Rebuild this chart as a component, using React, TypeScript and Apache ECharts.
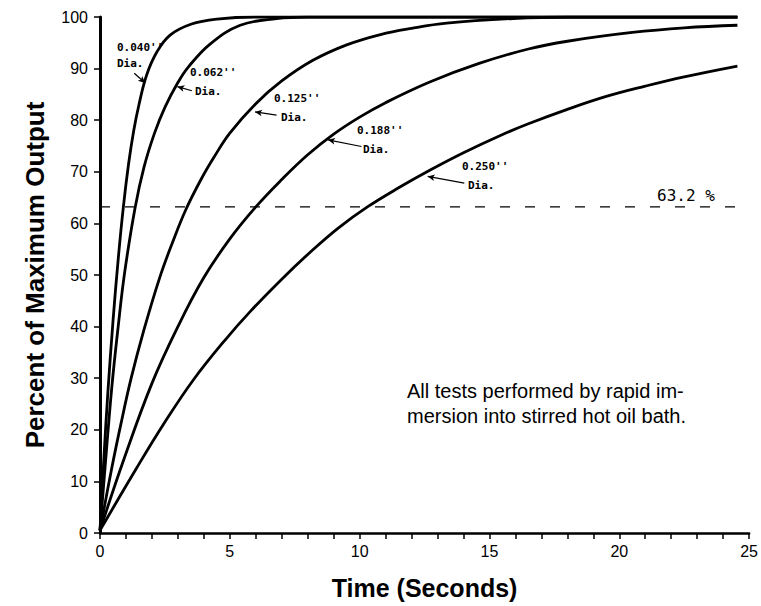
import React, { useEffect, useRef } from 'react';
import * as echarts from 'echarts';

// ---- Data (x = seconds, y = percent of maximum output) ----
const curve040 = [
  [0, 0.5], [0.15, 14.5], [0.3, 27], [0.5, 41], [0.7, 53], [0.9, 63.2], [1.1, 71.5],
  [1.3, 78], [1.5, 83], [1.8, 88.8], [2.2, 93.3], [2.7, 96.5], [3.5, 98.6],
  [4.5, 99.6], [6, 100], [10, 100], [15, 100], [20, 100], [24.55, 100],
];
const curve062 = [
  [0, 0.5], [0.2, 13], [0.45, 28], [0.7, 40], [0.95, 50.5], [1.35, 63], [1.7, 71],
  [2.1, 77.5], [2.5, 82.5], [3.0, 87.3], [3.4, 90.3], [4.25, 94.8], [5.4, 98.4],
  [6.8, 99.7], [8, 100], [12, 100], [16, 100], [20, 100], [24.55, 100],
];
const curve125 = [
  [0, 0.5], [0.45, 12.5], [0.8, 21], [1.2, 30], [1.7, 39.5], [2.3, 49.5], [2.8, 56.4],
  [3.3, 62.6], [3.9, 68.6], [4.4, 72.9], [5, 77.5], [6, 83.2], [7, 87.6], [8.2, 91.6],
  [9.5, 94.6], [10.8, 96.6], [12, 97.8], [13.35, 98.8], [15.9, 99.7], [18, 100],
  [21, 100], [24.55, 100],
];
const curve188 = [
  [0, 0.5], [0.9, 14], [2, 29], [3, 40], [4, 49.5], [5, 57], [6, 63.2], [7, 68.5],
  [8, 73.3], [9, 77.3], [10, 80.6], [11, 83.4], [12.7, 87.4], [14.6, 91], [16.5, 93.8],
  [18, 95.3], [20.5, 97], [22.5, 97.9], [24.55, 98.4],
];
const curve250 = [
  [0, 0.5], [1.4, 12.5], [2.5, 21.5], [3.6, 29.7], [4.8, 37.3], [5.8, 43], [7, 49.2],
  [8.2, 54.9], [9.2, 59.2], [10.3, 63.2], [11.5, 66.9], [12.7, 70.3], [14, 73.7], [15.4, 77],
  [16.5, 79.3], [18, 82.1], [19.5, 84.6], [21, 86.6], [22.5, 88.4], [24.55, 90.5],
];
const curveNames = ["0.040''", "0.062''", "0.125''", "0.188''", "0.250''"];
const thresholdLine = [[0, 63.2], [24.55, 63.2]];
const thresholdText = '63.2 %';
const noteLines = ['All tests performed by rapid im-', 'mersion into stirred hot oil bath.'];
const xAxisTitle = 'Time (Seconds)';
const yAxisTitle = 'Percent of Maximum Output';

// annotation arrows (tip on curve, tail near the label), in data units
const arrowTips = [[1.74, 87.2], [2.98, 86.5], [5.97, 81.6], [8.78, 76.2], [12.62, 69.1]];
const arrowTails = [[1.32, 89.1], [3.54, 85.7], [6.8, 81.0], [10.07, 74.9], [14.03, 67.8]];

// label placement in pixels (left x, centre y of the first line; second line "Dia.")
const labelPos = [
  { x: 117, y: 47, dx: 0, dy: 16 },
  { x: 190, y: 72, dx: 5, dy: 19 },
  { x: 274, y: 98, dx: 7, dy: 19 },
  { x: 357, y: 130, dx: 6, dy: 19 },
  { x: 462, y: 166, dx: 6, dy: 19 },
];

const curveData = [curve040, curve062, curve125, curve188, curve250];

export default function App() {
  const ref = useRef<HTMLDivElement>(null);
  useEffect(() => {
    if (!ref.current) return;
    const chart = echarts.init(ref.current, null, { renderer: 'svg' });
    const mono = '"DejaVu Sans Mono", monospace';
    const sans = '"Liberation Sans", Arial, sans-serif';

    const series: any[] = curveData.map((d, i) => ({
      type: 'line',
      name: curveNames[i],
      data: d,
      showSymbol: false,
      smooth: 0.4,
      clip: true,
      lineStyle: { color: '#000', width: 2.8 },
      z: 3,
      silent: true,
      markLine: {
        silent: true,
        symbol: ['arrow', 'none'],
        symbolSize: [5, 7],
        label: { show: false },
        lineStyle: { color: '#000', width: 1.2, type: 'solid' },
        data: [[{ coord: arrowTips[i] }, { coord: arrowTails[i] }]],
      },
    }));
    series.push({
      type: 'line',
      name: 'threshold',
      data: thresholdLine,
      showSymbol: false,
      silent: true,
      lineStyle: { color: '#000', width: 1.2, type: [10, 15] },
      z: 2,
    });

    const graphics: any[] = [];
    labelPos.forEach((p, i) => {
      graphics.push({
        type: 'text', x: p.x, y: p.y, silent: true,
        style: { text: curveNames[i], fontFamily: mono, fontSize: 11, fontWeight: 'bold', fill: '#000', align: 'left', verticalAlign: 'middle' },
      });
      graphics.push({
        type: 'text', x: p.x + p.dx, y: p.y + p.dy, silent: true,
        style: { text: 'Dia.', fontFamily: mono, fontSize: 11, fontWeight: 'bold', fill: '#000', align: 'left', verticalAlign: 'middle' },
      });
    });
    graphics.push({
      type: 'text', x: 657, y: 195, silent: true,
      style: { text: thresholdText, fontFamily: mono, fontSize: 16, fill: '#000', align: 'left', verticalAlign: 'middle' },
    });
    noteLines.forEach((t, i) => {
      graphics.push({
        type: 'text', x: 407, y: 391 + i * 25, silent: true,
        style: { text: t, fontFamily: sans, fontSize: 20, fill: '#000', align: 'left', verticalAlign: 'middle' },
      });
    });

    chart.setOption({
      animation: false,
      backgroundColor: '#fff',
      grid: { left: 100, right: 11, top: 17, bottom: 73, containLabel: false },
      xAxis: {
        type: 'value', min: 0, max: 25, interval: 5,
        axisLine: { show: true, lineStyle: { color: '#000', width: 2.5 } },
        axisTick: { show: true, length: 6, lineStyle: { color: '#000', width: 1.5 } },
        minorTick: { show: true, splitNumber: 5, length: 6, lineStyle: { color: '#000', width: 1.5 } },
        splitLine: { show: false },
        axisLabel: { color: '#000', fontSize: 16, fontFamily: sans, margin: 10 },
        name: xAxisTitle, nameLocation: 'middle', nameGap: 42,
        nameTextStyle: { color: '#000', fontSize: 25, fontWeight: 'bold', fontFamily: sans },
      },
      yAxis: {
        type: 'value', min: 0, max: 100, interval: 10,
        axisLine: { show: true, lineStyle: { color: '#000', width: 3 } },
        axisTick: { show: true, length: 6, lineStyle: { color: '#000', width: 1.5 } },
        splitLine: { show: false },
        axisLabel: { color: '#000', fontSize: 16, fontFamily: sans, margin: 12 },
        name: yAxisTitle, nameLocation: 'middle', nameGap: 52, nameRotate: 90,
        nameTextStyle: { color: '#000', fontSize: 26, fontWeight: 'bold', fontFamily: sans },
      },
      series,
      graphic: graphics,
    });
    return () => chart.dispose();
  }, []);
  return (
    <div
      ref={ref}
      style={{ position: 'absolute', left: 0, top: 0, width: 761, height: 606, background: '#fff' }}
    />
  );
}
